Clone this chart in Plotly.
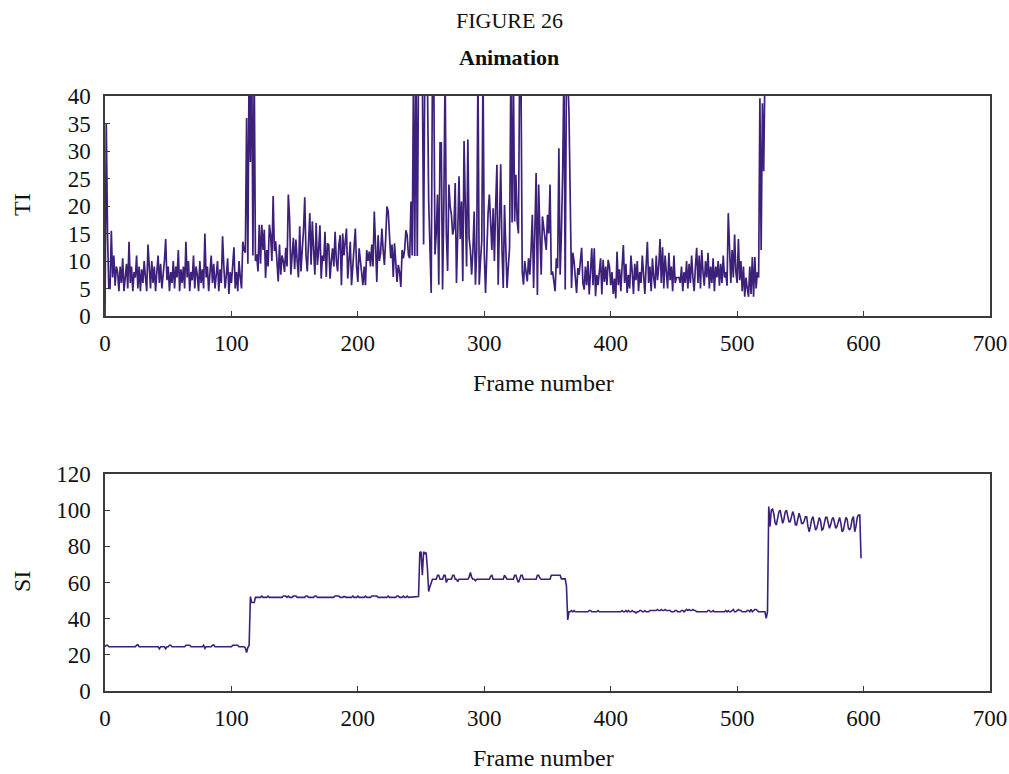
import plotly.graph_objects as go

# ---------------- data ----------------
ti_values = [
    0, 35, 15, 5, 5, 15.5, 7, 11, 5.5, 9,
    8, 4.5, 9, 6, 10.5, 4.5, 7, 9.5, 5, 13.5,
    6, 9, 4.5, 8, 7, 11, 5, 9, 4.5, 8.5,
    6, 10, 7, 4.5, 13, 8, 5, 10, 6, 9,
    4.5, 8, 11, 6, 9.5, 5, 7.5, 10, 14, 6.5,
    9, 4.5, 8, 6, 10, 5, 9, 7, 12, 4.5,
    8.5, 6, 9, 5, 13.5, 7, 10, 4.5, 8, 6.5,
    11, 5, 9, 7.5, 4.5, 10, 6, 8.5, 5, 15,
    7, 9, 4.5, 8, 11, 6, 9.5, 5, 7, 10,
    4.5, 8.5, 6, 14.5, 9, 5, 7.5, 10.5, 4, 8,
    6, 9.5, 12.5, 5, 8, 4.5, 10, 7, 5, 13.5,
    12, 11.5, 36, 9.5, 48, 28, 50, 11, 46, 10,
    11.2, 8.1, 16.6, 9.5, 16.6, 12, 15.7, 6.9, 12, 9,
    16.6, 14.8, 10, 21.8, 11.8, 13.6, 9, 6.3, 13, 7.5,
    11, 10, 8, 12.4, 9, 22.1, 17.8, 7.5, 11, 14.2,
    8.5, 13.9, 10, 7, 16.3, 8.1, 12, 15.5, 21.6, 11,
    8.1, 13, 18.7, 9.3, 17.2, 12, 7.5, 16.9, 9.3, 12,
    16.5, 6.8, 11, 10, 15.3, 7.1, 13.2, 12.9, 6.8, 10,
    12.3, 9, 15.3, 10, 8.1, 13, 14.7, 5.6, 15, 11,
    13.2, 15.9, 6.8, 10.5, 13.5, 5.6, 9, 14.1, 15.9, 9,
    6.2, 12.3, 10, 9, 5.6, 9, 5.6, 12, 10, 11.7,
    9, 13, 9, 19, 12, 6.2, 14.7, 10, 11.4, 15.9,
    12, 9.3, 14, 19.9, 19, 14.1, 10.5, 13, 7.1, 13.2,
    10, 6.2, 9.3, 8, 5.3, 12, 10.5, 12, 15.6, 14.7,
    11.1, 10.5, 20.8, 11, 45, 10.9, 48, 10.9, 45, 48,
    46, 44, 13, 46, 45, 44, 21.1, 12, 4.2, 45,
    46, 11.2, 15, 22.1, 5.7, 31.5, 31.5, 4.8, 19.9, 45,
    15, 8.2, 23.9, 20, 18.4, 14.8, 16, 24.2, 6, 15,
    25.4, 14, 20.8, 6.3, 31.8, 20, 9, 32.1, 14.2, 12,
    7.5, 12, 19, 5.7, 12, 45, 5.7, 10, 13.6, 45,
    11.2, 4.2, 12, 18.7, 22.1, 15.7, 12, 19.6, 10, 20,
    27.5, 5.7, 15, 27.6, 12, 5.1, 20.2, 10, 5.1, 9,
    12.4, 45, 17, 45, 17.2, 25.7, 17.2, 15, 46, 45,
    8.1, 5.7, 10, 8, 6.3, 10.5, 7.5, 12, 18.4, 5.1,
    15, 26, 3.8, 23.9, 15, 7.5, 18.1, 16, 14.2, 12,
    18.4, 15, 23.9, 7.5, 8.1, 6, 4.5, 10.5, 8.7, 30.5,
    7.5, 15, 26.3, 45, 4.8, 45, 44, 37, 20, 5.1,
    11.5, 10, 7, 4.2, 8.7, 7.5, 10, 12.4, 6, 4.8,
    9, 5.6, 10, 3.9, 8, 12.3, 5.6, 12.3, 3.6, 7.5,
    5.6, 8, 10.5, 3.9, 10.2, 6.2, 9, 5.6, 10.2, 9,
    5.6, 8, 4, 6.8, 3.2, 11.7, 5.6, 8.5, 4.5, 9,
    12.9, 6, 9.5, 4.2, 7.5, 5, 11, 8, 4, 9.5,
    6.5, 10, 4.5, 8, 6, 11, 7, 4, 9, 13.5,
    6, 9, 4.5, 10.5, 7, 5, 11, 6.5, 9, 14,
    6, 12.5, 5, 11, 8, 5, 11.5, 6.5, 9, 4.5,
    11, 6, 7, 7, 7, 6, 9, 4.5, 8, 6,
    10, 5, 9.5, 6, 11, 7, 4.5, 9, 12.4, 6,
    11, 5, 12, 8, 5.5, 10, 7, 11.5, 5, 9,
    6, 10.5, 4.5, 9, 7, 10, 5.5, 9.5, 6, 11,
    7, 8, 5.5, 18.7, 10, 6, 12, 7, 14.8, 8,
    6, 14, 6.5, 10, 4.5, 9, 3.5, 7, 5, 3.5,
    9, 4, 10.7, 3.5, 10.7, 5, 8, 7, 39.6, 12,
    38.7, 26.3, 45,
]

si_part1 = [  # frames 0-119
    24.5, 25.3, 25.3, 24.5, 24.5, 24.5, 24.5, 24.5, 24.5, 24.5,
    24.5, 24.5, 24.5, 24.5, 24.5, 24.5, 24.5, 24.5, 24.5, 24.5,
    24.5, 24.5, 24.5, 24.5, 24.5, 25.3, 25.6, 24.5, 24.5, 24.5,
    24.5, 24.5, 24.5, 24.5, 24.5, 24.5, 24.5, 24.5, 24.5, 24.5,
    24.5, 24.5, 24.5, 23.4, 24.5, 24.5, 24.5, 24.5, 23.4, 24.5,
    24.5, 25.3, 25.3, 24.5, 24.5, 24.5, 24.5, 24.5, 24.5, 24.5,
    24.5, 24.5, 24.5, 24.5, 25.3, 25.3, 25.3, 25.3, 24.5, 24.5,
    24.5, 24.5, 24.5, 24.5, 24.5, 24.5, 24.5, 24.5, 25.3, 23.6,
    24.5, 24.5, 24.5, 24.5, 24.5, 25.3, 25.5, 24.5, 24.5, 24.5,
    24.5, 24.5, 24.5, 24.5, 24.5, 24.5, 24.5, 24.5, 24.5, 24.5,
    24.5, 25.3, 25.3, 25.3, 25.3, 25.3, 24.5, 24.5, 24.5, 24.5,
    24.5, 23.8, 21.2, 24, 25.3, 52.2, 48.9, 48.9, 48.9, 51.8,
]
si_part2 = [  # frames 120-249
    51.8, 51.8, 51.8, 51.8, 52.5, 51.8, 51.8, 51.8, 51.8, 52.5,
    51.8, 51.8, 51.8, 51.8, 51.8, 51.8, 51.8, 51.8, 51.8, 51.8,
    51.8, 52.5, 52.3, 52.5, 51.8, 52.5, 51.8, 51.8, 51.8, 52.5,
    52.5, 52.5, 51.8, 51.8, 51.8, 51.8, 51.8, 51.8, 51.8, 52.5,
    52.5, 51.8, 51.8, 51.8, 51.8, 51.8, 52.5, 52.5, 51.8, 51.8,
    51.8, 51.8, 51.8, 51.8, 51.8, 51.8, 51.8, 51.8, 51.8, 51.8,
    51.8, 51.8, 52.5, 52.5, 52.5, 52.5, 51.8, 51.8, 51.8, 52.3,
    51.8, 51.8, 51.8, 51.8, 51.8, 51.8, 52.5, 51.8, 51.8, 51.8,
    52.5, 51.8, 51.8, 51.8, 51.8, 51.8, 52.5, 51.8, 51.8, 51.8,
    51.8, 52.5, 52.5, 52.5, 52.5, 52.5, 51.8, 51.8, 51.8, 51.8,
    51.8, 51.8, 51.8, 51.8, 52.5, 51.8, 51.8, 51.8, 51.8, 51.8,
    51.8, 52.5, 52.5, 51.8, 51.8, 51.8, 52.5, 51.8, 51.8, 52.5,
    51.8, 51.8, 51.8, 51.8, 51.8, 51.8, 51.8, 51.8, 52.2, 76.5,
]
si_part3 = [  # frames 250-369
    77, 64, 77, 76, 76.5, 68, 55, 57.7, 59.5, 61.8,
    61.8, 61.8, 61.8, 64, 64, 61.8, 61.8, 61.8, 64, 64,
    60, 61.8, 61.8, 61.8, 61.8, 64, 64, 61.8, 61.8, 60.5,
    61.8, 61.8, 61.8, 61.8, 61.8, 61.8, 61.8, 61.8, 63, 65.5,
    63, 61.8, 61.8, 61, 61.8, 61.8, 61.8, 61.8, 61.8, 61.8,
    61.8, 61.8, 61.8, 61.8, 61.8, 63.5, 64, 61.8, 61.8, 61.8,
    61.8, 61.8, 61.8, 61.8, 61.8, 61.8, 64, 62.5, 61.8, 61.8,
    61.8, 61.8, 61.8, 61.8, 64, 64, 61.8, 60, 61.8, 64,
    64, 61.8, 61.8, 61.8, 61.8, 61.8, 61.8, 61.8, 61.8, 61.8,
    61.8, 61.8, 64, 64, 62.5, 61.8, 61.8, 61.8, 61.8, 61.8,
    61.8, 61.8, 61.8, 64, 64, 64, 64, 64, 64, 64,
    64, 62, 62, 62, 62, 58, 39.3, 43.8, 43.8, 44.5,
]
si_part4 = [  # frames 370-524
    43.8, 44.5, 43.8, 43.8, 43.8, 43.8, 43.8, 43.8, 43.8, 43.8,
    43.8, 43.8, 43.8, 44.5, 44.5, 43.8, 43.8, 43.8, 43.8, 43.8,
    44.5, 43.8, 43.8, 43.8, 43.8, 43.8, 43.8, 43.8, 43.8, 43.8,
    43.8, 43.8, 43.8, 43.8, 43.8, 43.8, 43.8, 43.8, 43.8, 44.5,
    43.8, 43.8, 44.5, 43.8, 44.5, 43.8, 43.8, 44.5, 43.8, 43.8,
    43.2, 43.8, 43.8, 44.5, 44.5, 43.8, 43.8, 44.5, 43.8, 43.8,
    43.8, 44.5, 44.5, 44.5, 44.5, 44.5, 44.5, 45.1, 44.5, 44.5,
    45.1, 44.5, 44.5, 45.1, 44.5, 44.5, 44.5, 44.5, 43.8, 43.8,
    43.8, 44.5, 44.5, 43.8, 43.8, 43.8, 44.5, 44.5, 43.8, 44.5,
    45.1, 44.5, 45.1, 44.5, 44.5, 45.1, 44.5, 44.5, 43.8, 43.8,
    43.8, 43.8, 43.8, 43.8, 43.8, 43.8, 43.8, 44.5, 44.5, 43.8,
    43.8, 44.5, 43.8, 43.8, 43.8, 43.8, 43.8, 43.8, 43.8, 43.8,
    43.8, 44.5, 43.8, 44.5, 43.8, 43.8, 44.5, 45.1, 43.8, 43.8,
    44.5, 45.1, 44.5, 44.5, 43.8, 43.8, 43.8, 43.8, 44.5, 44.5,
    43.8, 45.1, 43.8, 44.5, 45.1, 45.1, 44.5, 43.8, 43.8, 43.8,
    43.8, 43.8, 43.8, 40.2, 43.8,
]
si_part5 = [  # frames 525-598
    102, 91, 100, 100.6, 98, 93, 91.8, 95, 99, 100,
    96, 92.7, 95, 99, 100, 96, 93.6, 93.6, 97, 99.2,
    97, 92, 91.8, 95, 98.3, 96, 92.7, 92.7, 94, 96.4,
    96.4, 91, 88.1, 91, 95, 96.4, 93, 89, 90, 94,
    96, 94, 89, 89.5, 93, 96, 96, 92, 90, 92,
    95, 96, 93, 90, 91, 94, 96, 93, 88.1, 89,
    93, 96, 95, 90, 89, 91, 95, 96.4, 88.1, 91,
    96, 97.3, 97.3, 73.4,
]
si_values = si_part1 + si_part2 + si_part3 + si_part4 + si_part5

ti_frames = list(range(len(ti_values)))
si_frames = list(range(len(si_values)))

x_ticks = [0, 100, 200, 300, 400, 500, 600, 700]
ti_ticks = [0, 5, 10, 15, 20, 25, 30, 35, 40]
si_ticks = [0, 20, 40, 60, 80, 100, 120]

# ---------------- styling ----------------
LINE = "#3d2079"
AXIS = "#3a3a3a"
FONT = "Liberation Serif"
W, H = 1009, 774

def px_x(p):
    return p / W

def px_y(p):
    return 1 - p / H

fig = go.Figure()
fig.add_trace(go.Scatter(x=ti_frames, y=ti_values, mode="lines",
                         line=dict(color=LINE, width=1.7), xaxis="x", yaxis="y",
                         showlegend=False))
fig.add_trace(go.Scatter(x=si_frames, y=si_values, mode="lines",
                         line=dict(color=LINE, width=1.6), xaxis="x2", yaxis="y2",
                         showlegend=False))

axis_common = dict(showline=True, mirror=True, linecolor=AXIS, linewidth=1.5,
                   ticks="inside", ticklen=5, tickwidth=1.3, tickcolor=AXIS,
                   showgrid=False, zeroline=False, automargin=False,
                   tickfont=dict(family=FONT, size=23, color="#111111"))

xdom = [px_x(105), px_x(990)]
fig.update_layout(
    width=W, height=H,
    margin=dict(l=0, r=0, t=0, b=0, autoexpand=False),
    paper_bgcolor="white", plot_bgcolor="white",
    font=dict(family=FONT, color="#111111"),
    xaxis=dict(domain=xdom, range=[0, 700], tickvals=x_ticks, anchor="y",
               ticklabelstandoff=6, **axis_common),
    yaxis=dict(domain=[px_y(316), px_y(96)], range=[0, 40], tickvals=ti_ticks,
               anchor="x", ticklabelstandoff=8, **axis_common),
    xaxis2=dict(domain=xdom, range=[0, 700], tickvals=x_ticks, anchor="y2",
                ticklabelstandoff=6, **axis_common),
    yaxis2=dict(domain=[px_y(691), px_y(474)], range=[0, 120], tickvals=si_ticks,
                anchor="x2", ticklabelstandoff=8, **axis_common),
)

ann = [
    dict(text="FIGURE 26", x=px_x(509), y=px_y(20), size=22, angle=0),
    dict(text="<b>Animation</b>", x=px_x(509), y=px_y(57), size=22, angle=0),
    dict(text="TI", x=px_x(22), y=px_y(205), size=24, angle=-90),
    dict(text="Frame number", x=px_x(543), y=px_y(383), size=24, angle=0),
    dict(text="SI", x=px_x(22), y=px_y(582), size=24, angle=-90),
    dict(text="Frame number", x=px_x(543), y=px_y(758), size=24, angle=0),
]
for a in ann:
    fig.add_annotation(text=a["text"], x=a["x"], y=a["y"], xref="paper", yref="paper",
                       xanchor="center", yanchor="middle", showarrow=False,
                       textangle=a["angle"],
                       font=dict(family=FONT, size=a["size"], color="#111111"))

fig.write_html("out.html")
